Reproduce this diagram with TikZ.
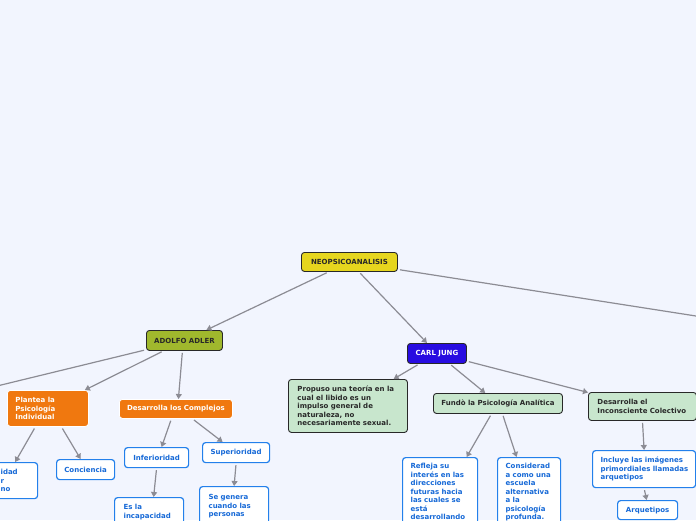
\documentclass[tikz,border=0pt]{standalone}
\usepackage{fontspec}
\setmainfont{DejaVu Sans}
\usetikzlibrary{arrows.meta,calc}
\definecolor{bgc}{RGB}{242,245,254}
\definecolor{darkc}{RGB}{40,40,40}
\definecolor{yellowc}{RGB}{230,214,30}
\definecolor{olivec}{RGB}{160,184,45}
\definecolor{jungc}{RGB}{40,12,225}
\definecolor{orangec}{RGB}{240,120,15}
\definecolor{greenc}{RGB}{200,230,205}
\definecolor{bluec}{RGB}{35,128,235}
\definecolor{bluetxt}{RGB}{22,105,215}
\definecolor{linec}{RGB}{140,140,148}
\hyphenpenalty=10000
\exhyphenpenalty=10000
\begin{document}
\begin{tikzpicture}[x=1pt,y=-1pt,
  font=\fontsize{7}{8.5}\selectfont\bfseries,
  box/.style={rounded corners=3pt, anchor=north west, inner ysep=6pt, inner xsep=0pt},
  darkb/.style={box, draw=darkc, line width=0.9pt, text=darkc},
  orangeb/.style={box, draw=white, line width=0.8pt, fill=orangec, text=white},
  blueb/.style={box, draw=bluec, line width=1.2pt, fill=white, text=bluetxt},
  con/.style={draw=linec, line width=1.2pt, shorten <=2pt, -{Triangle[length=5pt,width=6pt]}}]
\useasboundingbox (0,0) rectangle (696,520);
\fill[bgc] (0,0) rectangle (696,520);
\clip (0,0) rectangle (696,520);

% root
\node[darkb, fill=yellowc, minimum width=96pt, minimum height=19pt] (neo) at (301,252) {NEOPSICOANALISIS};

% Adler branch
\node[darkb, fill=olivec, minimum width=76pt, minimum height=20pt] (adler) at (146,330) {ADOLFO ADLER};
\node[orangeb, minimum width=81pt, minimum height=36pt, text width=65pt, inner xsep=8pt, align=left] (plantea) at (7,390) {Plantea la\\Psicología\\Individual};
\node[orangeb, minimum width=113pt, minimum height=19pt] (complejos) at (119,399) {Desarrolla los Complejos};
\node[blueb, minimum height=36pt, text width=22pt, inner xsep=15pt, align=left] (leftb) at (-15,462) {idad\\r\\no};
\node[blueb, minimum width=58pt, minimum height=20pt] (conciencia) at (56,459) {Conciencia};
\node[blueb, minimum width=64pt, minimum height=20pt] (inferioridad) at (124,447) {Inferioridad};
\node[blueb, minimum width=67pt, minimum height=20pt] (superioridad) at (202,442) {Superioridad};
\node[blueb, text width=51pt, inner xsep=9pt, inner ysep=7pt, align=left] (esla) at (114,497) {Es la\\incapacidad\\[4pt]};
\node[blueb, text width=51pt, inner xsep=9pt, inner ysep=8pt, align=left] (sega) at (199,486) {Se genera\\cuando las\\personas\\[4pt]};

% Jung branch
\node[box, draw=darkc, line width=0.9pt, fill=jungc, text=white, minimum width=59pt, minimum height=20pt] (jung) at (407,343) {CARL JUNG};
\node[darkb, fill=greenc, minimum width=119pt, minimum height=53pt, text width=101pt, inner xsep=9pt, align=left] (propuso) at (288,379) {Propuso una teoría en la\\cual el libido es un\\impulso general de\\naturaleza, no\\necesariamente sexual.};
\node[darkb, fill=greenc, minimum width=129pt, minimum height=20pt] (fundo) at (433,393) {Fundò la Psicología Analítica};
\node[darkb, fill=greenc, minimum width=108pt, minimum height=28pt, text width=90pt, inner xsep=9pt, align=left] (inconsciente) at (588,392) {Desarrolla el\\Inconsciente Colectivo};
\node[blueb, text width=59pt, inner xsep=8pt, align=left] (refleja) at (402,457) {Refleja su\\interés en las\\direcciones\\futuras hacia\\las cuales se\\está\\desarrollando\\[4pt]};
\node[blueb, text width=47pt, inner xsep=8pt, align=left] (considerad) at (497,457) {Considerad\\a como una\\escuela\\alternativa\\a la\\psicología\\profunda.\\[4pt]};
\node[blueb, minimum width=103pt, minimum height=37pt, text width=91pt, inner xsep=6pt, align=left] (incluye) at (592,450) {\hspace*{2pt}Incluye las imágenes\\\hspace*{2pt}primordiales llamadas\\\hspace*{2pt}arquetipos};
\node[blueb, minimum width=60pt, minimum height=19pt] (arquetipos) at (617,500) {Arquetipos};

% free ends
\coordinate (offR) at (760,326);
\coordinate (offL) at (-40,395);

% connectors
\draw[con] (neo) -- (adler);
\draw[con] (neo) -- (jung);
\draw[con] (neo) -- (offR);
\draw[con] (adler) -- (offL);
\draw[con] (adler) -- (plantea);
\draw[con] ([xshift=-2pt]adler.south) -- ([xshift=2.5pt]complejos.north);
\draw[con] ([xshift=-12.5pt]plantea.south) -- ([xshift=-23pt]leftb.north east);
\draw[con] ([xshift=13.5pt]plantea.south) -- ([xshift=-5pt]conciencia.north);
\draw[con] ([xshift=-4.5pt]complejos.south) -- ([xshift=5pt]inferioridad.north);
\draw[con] ([xshift=16.5pt]complejos.south) -- ([xshift=-13.5pt]superioridad.north);
\draw[con] (inferioridad.south) -- ([xshift=4.5pt]esla.north);
\draw[con] (superioridad.south) -- (sega.north);
\draw[con] (jung) -- (propuso);
\draw[con] (jung) -- (fundo);
\draw[con] (jung) -- (inconsciente);
\draw[con] ([xshift=-6.5pt]fundo.south) -- ([xshift=26.5pt]refleja.north);
\draw[con] ([xshift=4.5pt]fundo.south) -- ([xshift=-12.5pt]considerad.north);
\draw[con] (inconsciente.south) -- (incluye.north);
\draw[con] (incluye.south) -- ([xshift=-1pt]arquetipos.north);
\end{tikzpicture}
\end{document}
